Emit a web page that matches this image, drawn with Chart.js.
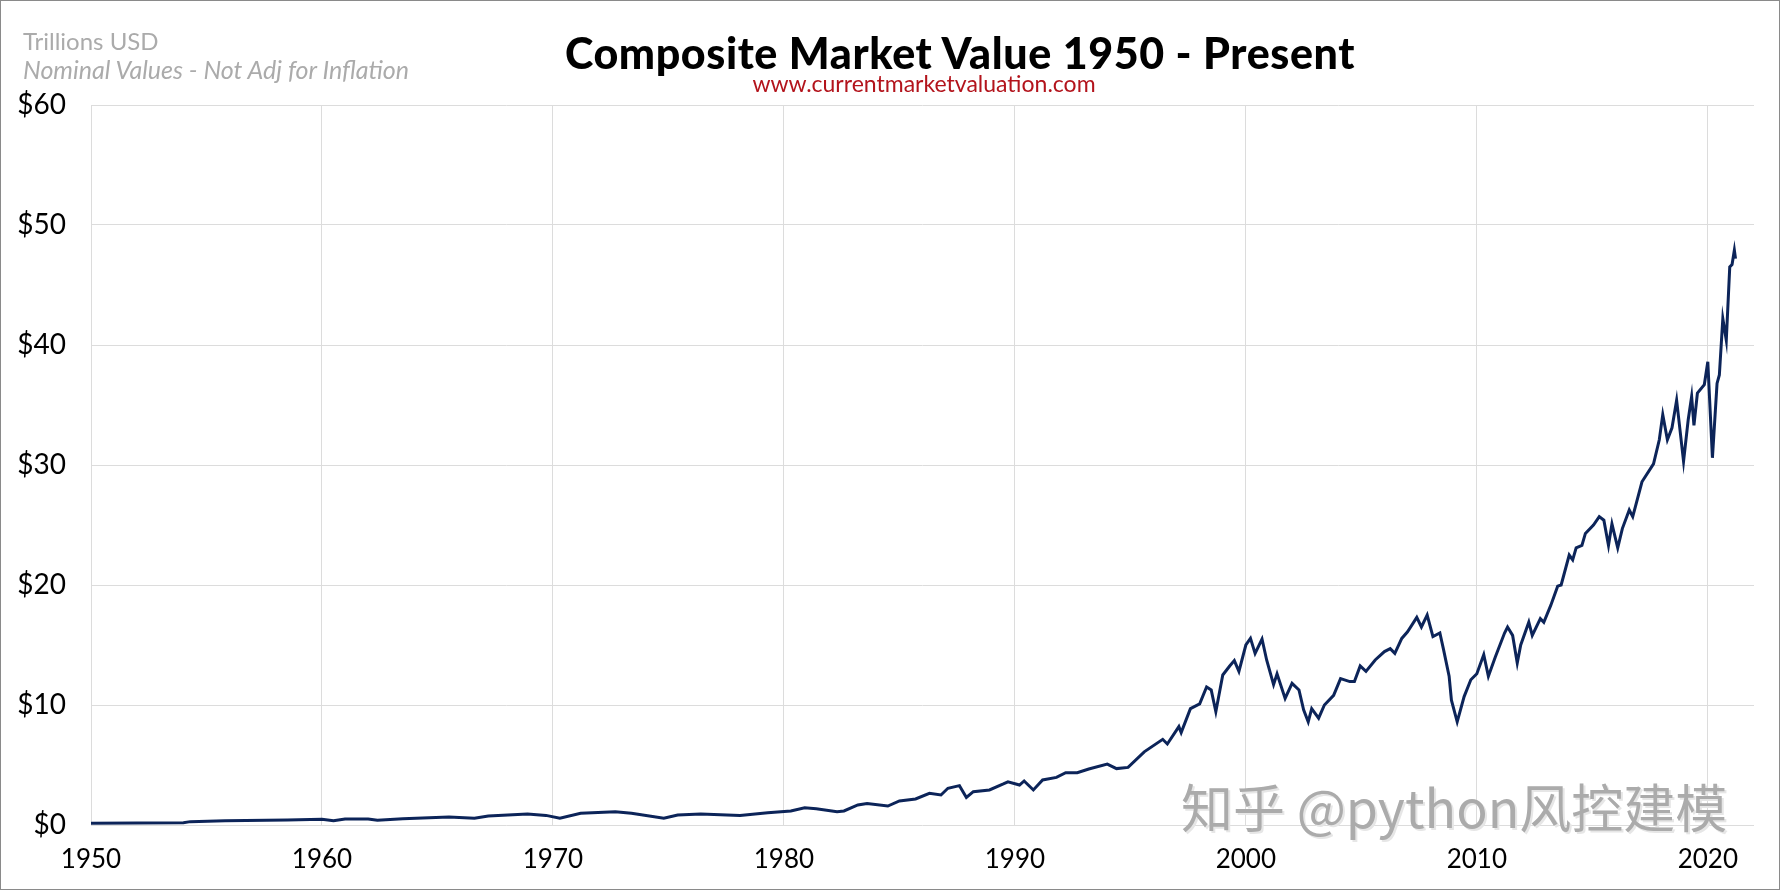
<!DOCTYPE html>
<html>
<head>
<meta charset="utf-8">
<script src="https://cdn.jsdelivr.net/npm/chart.js@4.4.1/dist/chart.umd.min.js"></script>
<style>
  html, body { margin: 0; padding: 0; background: #fff; }
  #wrap { position: relative; width: 1780px; height: 890px; overflow: hidden; }
  #chart { position: absolute; left: 0; top: 0; }
  .txt { position: absolute; white-space: nowrap; font-family: Lato, "Open Sans", sans-serif; line-height: 1; }
  #frame { position: absolute; left: 0; top: 0; width: 1778px; height: 888px; border: 1px solid #8a8a8a; pointer-events: none; }
</style>
</head>
<body>
<div id="wrap">
  <canvas id="chart" width="1780" height="890"></canvas>
  <div class="txt" id="t1" style="left:23px; top:29px; font-size:24px; color:#ababab;">Trillions USD</div>
  <div class="txt" id="t2" style="left:23px; top:57px; font-size:25px; color:#ababab; font-style:italic;">Nominal Values - Not Adj for Inflation</div>
  <div class="txt" id="title" style="left:960px; top:31px; transform:translateX(-50%); font-size:43px; font-weight:900; letter-spacing:0.6px; color:#000;">Composite Market Value 1950 - Present</div>
  <div class="txt" id="sub" style="left:924px; top:72px; transform:translateX(-50%); font-size:23px; color:#b3141c;">www.currentmarketvaluation.com</div>
  <div class="txt" id="wm" style="left:1181px; top:780px; font-family:'Noto Sans CJK SC', sans-serif; font-size:52px; color:#ababab; text-shadow: 2px 2px 0 #e6e6e6;">知乎 @python风控建模</div>
  <div id="frame"></div>
</div>
<script>
// values, trillions USD
const years = [
  1950.0, 1954.0, 1954.3, 1955.8, 1958.5, 1960.0, 1960.5, 1961.0, 1962.0, 1962.4,
  1963.5, 1965.5, 1966.6, 1967.2, 1968.9, 1969.7, 1970.3, 1971.2, 1972.7, 1973.4,
  1974.8, 1975.4, 1976.4, 1978.1, 1979.3, 1980.3, 1980.9, 1981.4, 1982.3, 1982.6,
  1983.2, 1983.6, 1984.5, 1985.0, 1985.7, 1986.3, 1986.8, 1987.1, 1987.6, 1987.9,
  1988.2, 1988.9, 1989.5, 1989.7, 1990.2, 1990.4, 1990.8, 1991.2, 1991.8, 1992.2,
  1992.7, 1993.2, 1994.0, 1994.4, 1994.9, 1995.6, 1996.4, 1996.6, 1997.1, 1997.2,
  1997.6, 1998.0, 1998.3, 1998.5, 1998.7, 1999.0, 1999.3, 1999.5, 1999.7, 2000.0,
  2000.2, 2000.4, 2000.7, 2000.9, 2001.2, 2001.35, 2001.7, 2002.0, 2002.3, 2002.5,
  2002.7, 2002.85, 2003.15, 2003.4, 2003.8, 2004.1, 2004.5, 2004.7, 2004.95, 2005.2,
  2005.6, 2006.0, 2006.25, 2006.45, 2006.75, 2007.0, 2007.4, 2007.6, 2007.85, 2008.1,
  2008.4, 2008.55, 2008.8, 2008.9, 2009.15, 2009.45, 2009.74, 2010.0, 2010.3, 2010.5,
  2010.8, 2011.2, 2011.33, 2011.55, 2011.75, 2011.9, 2012.25, 2012.4, 2012.75, 2012.9,
  2013.2, 2013.5, 2013.65, 2014.0, 2014.15, 2014.3, 2014.55, 2014.7, 2015.05, 2015.3,
  2015.5, 2015.7, 2015.85, 2016.1, 2016.3, 2016.6, 2016.75, 2017.15, 2017.65, 2017.9,
  2018.05, 2018.25, 2018.45, 2018.65, 2018.95, 2019.15, 2019.3, 2019.4, 2019.55, 2019.85,
  2020.0, 2020.2, 2020.4, 2020.5, 2020.65, 2020.8, 2020.95, 2021.05, 2021.15, 2021.2
];
const marketValue = [
  0.14, 0.19, 0.28, 0.36, 0.42, 0.47, 0.35, 0.50, 0.50, 0.39,
  0.53, 0.67, 0.56, 0.75, 0.92, 0.80, 0.56, 0.97, 1.11, 0.97,
  0.56, 0.83, 0.92, 0.80, 1.03, 1.17, 1.44, 1.36, 1.11, 1.17,
  1.67, 1.80, 1.58, 2.00, 2.17, 2.64, 2.50, 3.06, 3.28, 2.30,
  2.78, 2.92, 3.42, 3.60, 3.33, 3.67, 2.92, 3.75, 3.97, 4.36,
  4.36, 4.67, 5.08, 4.70, 4.80, 6.10, 7.14, 6.75, 8.20, 7.70,
  9.70, 10.10, 11.50, 11.25, 9.44, 12.50, 13.25, 13.70, 12.80, 15.00,
  15.55, 14.30, 15.50, 13.75, 11.70, 12.60, 10.55, 11.80, 11.25, 9.60,
  8.60, 9.70, 8.90, 10.00, 10.80, 12.20, 11.95, 11.95, 13.25, 12.80,
  13.75, 14.45, 14.70, 14.30, 15.55, 16.10, 17.30, 16.50, 17.50, 15.70,
  16.00, 14.70, 12.40, 10.40, 8.60, 10.70, 12.10, 12.60, 14.20, 12.40,
  14.00, 16.00, 16.50, 15.80, 13.50, 15.00, 16.90, 15.80, 17.20, 16.90,
  18.30, 19.90, 20.00, 22.50, 22.10, 23.10, 23.30, 24.30, 25.00, 25.70,
  25.40, 23.30, 25.10, 23.10, 24.70, 26.25, 25.70, 28.60, 30.10, 32.10,
  34.20, 32.10, 33.10, 35.40, 30.30, 33.75, 35.70, 33.30, 36.00, 36.70,
  38.60, 30.60, 36.80, 37.50, 42.20, 40.40, 46.50, 46.70, 47.90, 47.20
];
const yearTicks = [1950, 1960, 1970, 1980, 1990, 2000, 2010, 2020];
const valueTicks = [0, 10, 20, 30, 40, 50, 60];

const points = years.map((yr, i) => ({ x: yr, y: marketValue[i] }));
const fontFamily = 'Lato, "Open Sans", sans-serif';

const ctx = document.getElementById('chart').getContext('2d');
const chart = new Chart(ctx, {
  type: 'line',
  data: {
    datasets: [{
      label: 'Composite Market Value',
      data: points,
      borderColor: '#0c2459',
      borderWidth: 3,
      pointRadius: 0,
      fill: false,
      tension: 0
    }]
  },
  options: {
    responsive: false,
    animation: false,
    layout: { padding: { top: 105, right: 26, bottom: 0, left: 0 } },
    plugins: { legend: { display: false }, tooltip: { enabled: false } },
    scales: {
      x: {
        type: 'linear',
        min: 1950,
        max: 2022,
        afterFit: (scale) => { scale.height = 65; },
        afterBuildTicks: (scale) => { scale.ticks = yearTicks.map(v => ({ value: v })); },
        grid: { color: '#dcdcdc', lineWidth: 1, drawTicks: false },
        border: { display: false },
        ticks: { color: '#000', font: { family: fontFamily, size: 26 }, padding: 19, maxRotation: 0, callback: v => String(v) }
      },
      y: {
        min: 0,
        max: 60,
        afterFit: (scale) => { scale.width = 91; },
        afterBuildTicks: (scale) => { scale.ticks = valueTicks.map(v => ({ value: v })); },
        grid: { color: '#dcdcdc', lineWidth: 1, drawTicks: false },
        border: { display: false },
        ticks: { color: '#000', font: { family: fontFamily, size: 28 }, padding: 25, callback: v => '$' + v }
      }
    }
  }
});
</script>
</body>
</html>
